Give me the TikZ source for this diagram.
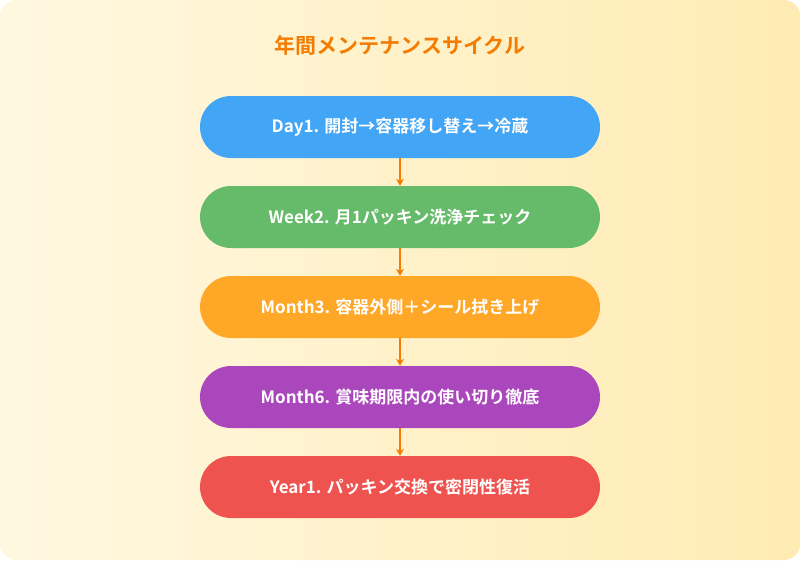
\documentclass[tikz,border=0pt]{standalone}
\usepackage{fontspec}
\setmainfont{Noto Sans CJK JP}[BoldFont={* Bold}]
\usetikzlibrary{arrows.meta}
\definecolor{bgA}{HTML}{FFF8E1}
\definecolor{bgB}{HTML}{FFECB3}
\definecolor{ttl}{HTML}{F57C00}
\definecolor{cA}{HTML}{42A5F5}
\definecolor{cB}{HTML}{66BB6A}
\definecolor{cC}{HTML}{FFA726}
\definecolor{cD}{HTML}{AB47BC}
\definecolor{cE}{HTML}{EF5350}
\definecolor{arr}{HTML}{F57C00}
\tikzset{
 stage/.style={rounded corners=31pt, minimum width=400pt, minimum height=62pt, text=white, font=\fontsize{17}{20}\selectfont\bfseries, inner sep=0pt},
 link/.style={draw=arr, line width=2pt, -{Stealth[length=7pt,width=8pt]}}
}
\begin{document}
\begin{tikzpicture}[x=1pt,y=-1pt]
\useasboundingbox (0,0) rectangle (800,560);
\shade[rounded corners=16pt, left color=bgA, right color=bgB] (0,0) rectangle (800,560);
\node[text=ttl, font=\fontsize{21}{24}\selectfont\bfseries] (title) at (400,45) {年間メンテナンスサイクル};
\node[stage, fill=cA] (s1) at (400,127) {Day1. 開封→容器移し替え→冷蔵};
\node[stage, fill=cB] (s2) at (400,217) {Week2. 月1パッキン洗浄チェック};
\node[stage, fill=cC] (s3) at (400,307) {Month3. 容器外側＋シール拭き上げ};
\node[stage, fill=cD] (s4) at (400,397) {Month6. 賞味期限内の使い切り徹底};
\node[stage, fill=cE] (s5) at (400,487) {Year1. パッキン交換で密閉性復活};
\draw[link] (s1) -- (s2);
\draw[link] (s2) -- (s3);
\draw[link] (s3) -- (s4);
\draw[link] (s4) -- (s5);
\end{tikzpicture}
\end{document}
